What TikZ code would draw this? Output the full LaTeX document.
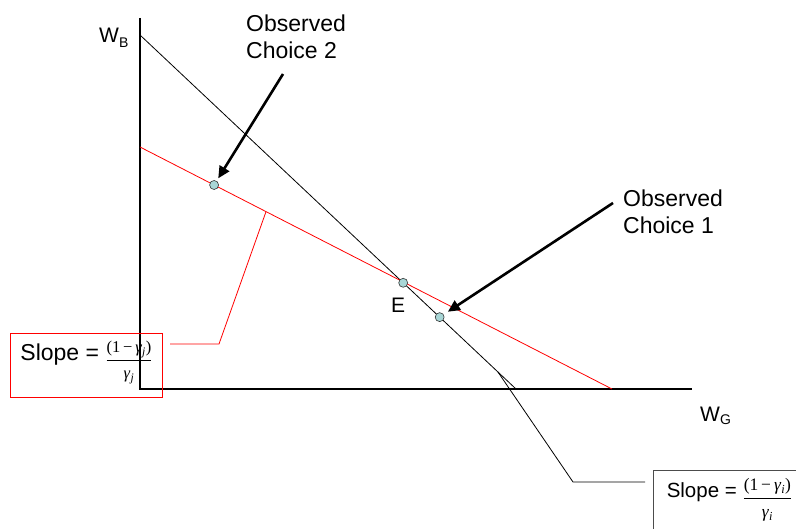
\documentclass[tikz,border=0pt]{standalone}
\usepackage{fontspec}
\setmainfont{Liberation Sans}
\newfontfamily\serifgr{Liberation Serif}
\usetikzlibrary{arrows.meta,calc}
\definecolor{dotfill}{RGB}{168,214,214}
\definecolor{boxred}{RGB}{255,0,0}
\newcommand{\gfrac}[1]{$\displaystyle\frac{\hbox{\serifgr(1\,−\,\textit{γ}\textsubscript{\textit{#1}})}}{\hbox{\serifgr\rule{0pt}{1.05em}\textit{γ}\textsubscript{\textit{#1}}}}$}
\begin{document}
\begin{tikzpicture}[x=1pt,y=-1pt,
  axis/.style={line width=1.2pt},
  budget/.style={line width=0.8pt},
  redline/.style={draw=boxred,line width=0.8pt},
  choicedot/.style={circle,draw=black!80,fill=dotfill,line width=0.6pt,inner sep=0pt,minimum size=9pt},
  bigarrow/.style={line width=2.6pt,-{Triangle[length=12pt,width=11pt]}},
  lbl/.style={inner sep=0pt,font=\fontsize{23}{26.5}\selectfont,align=left,anchor=north west},
  axlbl/.style={inner sep=0pt,font=\fontsize{21}{21}\selectfont,anchor=base west},
  slopebox/.style={inner sep=0pt,minimum width=152pt,minimum height=64pt,text height=16pt,text depth=26pt,anchor=base},
]
\useasboundingbox (0,0) rectangle (796,529);
% axes
\coordinate (o) at (140,389);
\coordinate (ytop) at (140,18);
\coordinate (xend) at (692,389);
\draw[axis] (ytop) -- (o) -- (xend);
% budget lines
\coordinate (bB) at (140,35);
\coordinate (bG) at (516,389);
\coordinate (rB) at (140,147);
\coordinate (rG) at (612,389);
\draw[budget] (bB) -- (bG);
\draw[redline] (rB) -- (rG);
% axis labels
\node[axlbl] (wb) at (99,43) {W\raisebox{-5pt}{\fontsize{14}{14}\selectfont B}};
\node[axlbl] (wg) at (700,422) {W\raisebox{-3pt}{\fontsize{14}{14}\selectfont G}};
% points
\node[choicedot] (E) at ($(bB)!0.7!(bG)$) {};
\node[choicedot] (c1) at ($(bB)!0.797!(bG)$) {};
\node[choicedot] (c2) at ($(rB)!0.157!(rG)$) {};
\node[inner sep=0pt,font=\fontsize{21}{21}\selectfont,anchor=base west] (elbl) at (391,313) {E};
% observed choice labels and arrows
\node[lbl] (oc2) at (246,15) {Observed\\Choice 2};
\node[lbl] (oc1) at (623,190) {Observed\\Choice 1};
\coordinate (a2) at (283,74);
\coordinate (a1) at (613,203);
\draw[bigarrow,shorten >=3pt] (a2) -- (c2);
\draw[bigarrow,shorten >=5pt] (a1) -- (c1);
% slope boxes
\node[slopebox] (rbox) at (86.5,360.5)
  {\fontsize{23}{23}\selectfont Slope = \raisebox{-4pt}{\fontsize{16.5}{16.5}\selectfont\gfrac{j}}};
\draw[redline,line width=1.1pt] (rbox.north west) rectangle (rbox.south east);
\node[slopebox] (bbox) at (729.5,497.5)
  {\fontsize{20.5}{20.5}\selectfont Slope = \raisebox{-5pt}{\fontsize{17.5}{17.5}\selectfont\gfrac{i}}};
\draw[black!70,line width=1pt] (bbox.north west) rectangle (bbox.south east);
% callouts
\coordinate (rc1) at ($(rB)!0.267!(rG)$);
\coordinate (rc2) at (219,344);
\coordinate (rc3) at (170,344);
\draw[redline] (rc1) -- (rc2) -- (rc3);
\coordinate (bc1) at ($(bB)!0.952!(bG)$);
\coordinate (bc2) at (573,482);
\coordinate (bc3) at (645,482);
\draw[budget] (bc1) -- (bc2) -- (bc3);
\end{tikzpicture}
\end{document}
